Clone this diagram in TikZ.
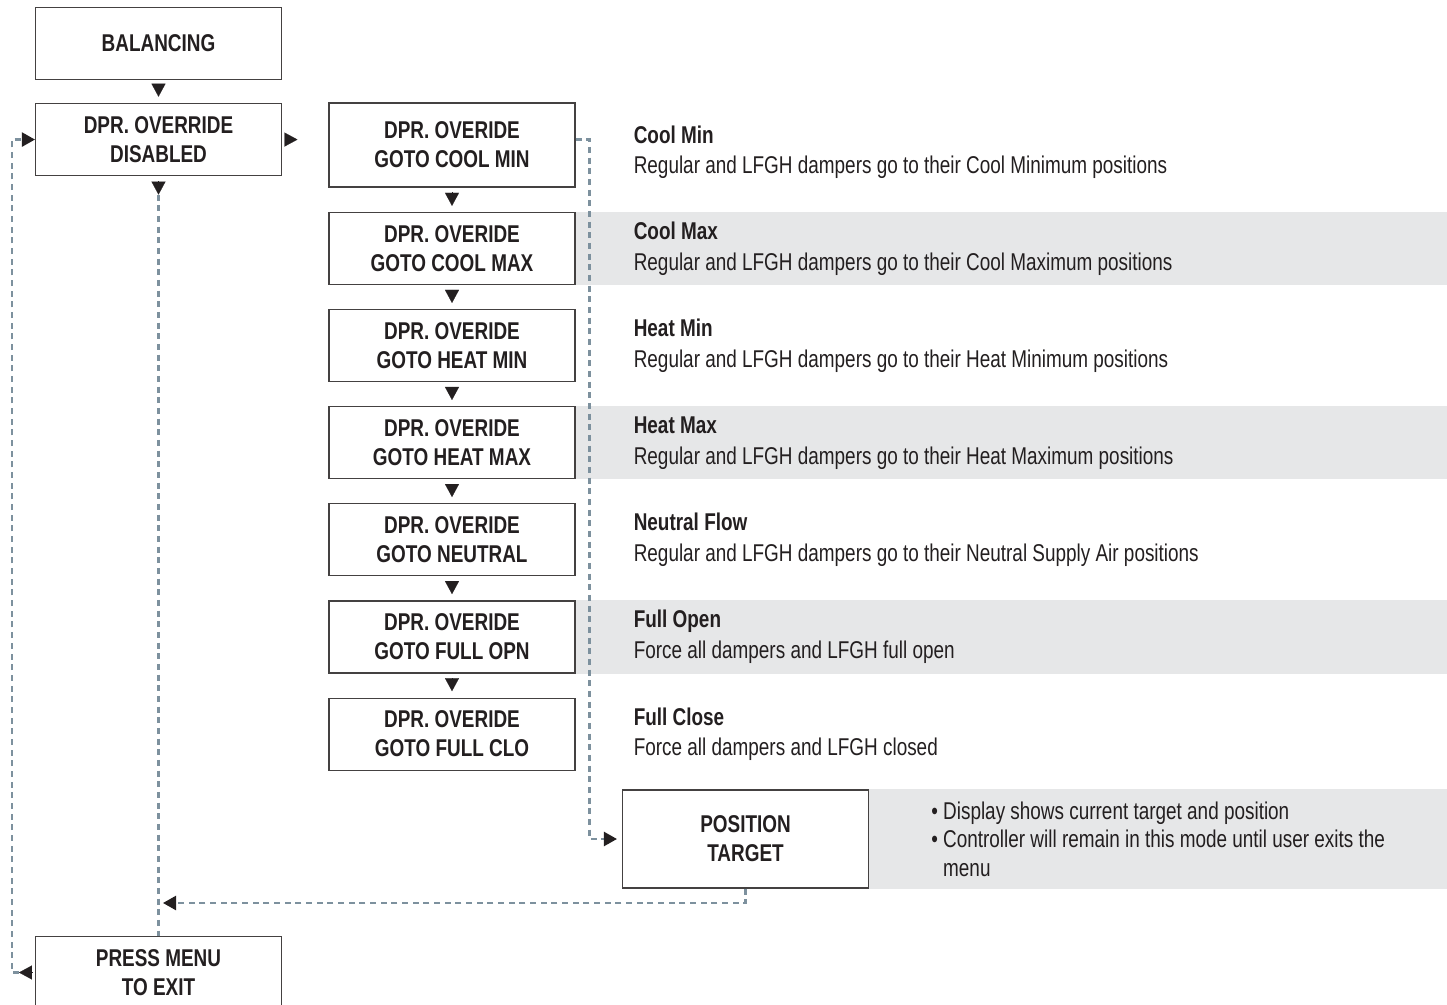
\documentclass[tikz,border=0pt]{standalone}
\usepackage{fontspec}
\setmainfont{Liberation Sans}[FakeStretch=0.78]
\usetikzlibrary{arrows.meta,positioning}

\definecolor{ink}{RGB}{35,31,32}
\definecolor{band}{RGB}{230,231,232}
\definecolor{dashgrey}{RGB}{125,145,158}

\tikzset{
  menubox/.style={draw=ink!85, line width=0.8pt, fill=white, text=ink, inner sep=0pt,
    minimum width=184.5pt, minimum height=54pt, align=center,
    font=\bfseries\fontsize{18.2pt}{21.75pt}\selectfont},
  desc/.style={anchor=west, inner sep=0pt, align=left, text=ink,
    font=\fontsize{18.2pt}{23pt}\selectfont},
  tip/.tip={Triangle[length=9.75pt,width=10.5pt,color=ink]},
  steptip/.style={-tip, draw=ink, line width=0.1pt, shorten <=3.5pt, shorten >=4.75pt},
  dashflow/.style={draw=dashgrey, line width=1.7pt, dash pattern=on 4.5pt off 3.5pt}
}

\begin{document}
\begin{tikzpicture}[x=0.75pt,y=0.75pt,yscale=-1]
  \useasboundingbox (0,0) rectangle (1447,1005);
  \coordinate (edge) at (1447,0);

  %Left column
  \node[menubox] (bal) at (158.5,43.5) {BALANCING};
  \node[menubox, below=17.25pt of bal] (dis) {DPR. OVERRIDE\\DISABLED};
  \node[menubox] (exit) at (158.5,972.5) {PRESS MENU\\TO EXIT};

  %Override column
  \node[menubox, minimum height=63pt] (cmin) at (452,145) {DPR. OVERIDE\\GOTO COOL MIN};
  \node[menubox, below=18.5pt of cmin] (cmax) {DPR. OVERIDE\\GOTO COOL MAX};
  \node[menubox, below=18pt of cmax] (hmin) {DPR. OVERIDE\\GOTO HEAT MIN};
  \node[menubox, below=18pt of hmin] (hmax) {DPR. OVERIDE\\GOTO HEAT MAX};
  \node[menubox, below=18pt of hmax] (neu) {DPR. OVERIDE\\GOTO NEUTRAL};
  \node[menubox, below=18pt of neu] (fopn) {DPR. OVERIDE\\GOTO FULL OPN};
  \node[menubox, below=18pt of fopn] (fclo) {DPR. OVERIDE\\GOTO FULL CLO};
  \node[menubox, minimum height=73.5pt] (pos) at (745.5,839) {POSITION\\TARGET};

  %Shaded bands
  \foreach \b in {cmax,hmax,fopn,pos}
    \fill[band] (\b.north east) rectangle (\b.south east -| edge);

  %Descriptions
  \node[desc, right=43.5pt of cmin, yshift=-5.5pt] (dcmin) {\textbf{Cool Min}\\Regular and LFGH dampers go to their Cool Minimum positions};
  \node[desc, right=43.5pt of cmax] (dcmax) {\textbf{Cool Max}\\Regular and LFGH dampers go to their Cool Maximum positions};
  \node[desc, right=43.5pt of hmin] (dhmin) {\textbf{Heat Min}\\Regular and LFGH dampers go to their Heat Minimum positions};
  \node[desc, right=43.5pt of hmax] (dhmax) {\textbf{Heat Max}\\Regular and LFGH dampers go to their Heat Maximum positions};
  \node[desc, right=43.5pt of neu] (dneu) {\textbf{Neutral Flow}\\Regular and LFGH dampers go to their Neutral Supply Air positions};
  \node[desc, right=43.5pt of fopn] (dfopn) {\textbf{Full Open}\\Force all dampers and LFGH full open};
  \node[desc, right=43.5pt of fclo] (dfclo) {\textbf{Full Close}\\Force all dampers and LFGH closed};
  \node[desc, right=46.5pt of pos, font=\fontsize{18.2pt}{21.5pt}\selectfont] (note)
    {\textbullet\ Display shows current target and position\\
     \textbullet\ Controller will remain in this mode until user exits the\\
     \phantom{\textbullet\ }menu};

  %Step arrows
  \draw[steptip] (bal) -- (dis);
  \draw[steptip, shorten >=23.25pt, shorten <=3pt] (dis.east) -- (dis.east -| cmin.west);
  \foreach \a/\b in {cmin/cmax,cmax/hmin,hmin/hmax,hmax/neu,neu/fopn,fopn/fclo}
    \draw[steptip] (\a) -- (\b);

  %Dashed flow
  \draw[steptip, shorten >=0pt, shorten <=4pt] (dis.south) -- ++(0,18.5) coordinate (dtip);
  \draw[dashflow] (dtip) -- (exit.north);
  \draw[dashflow, -tip, shorten >=3.75pt] (cmin.east |- dis.east) -- ++(14,0) |- (pos.west);
  \coordinate (join) at (163,903);
  \draw[dashflow, -tip] (pos.south) |- (join);
  \draw[steptip, shorten >=0pt, shorten <=2.25pt] (exit.west) -- ++(-16,0) coordinate (lx);
  \draw[dashflow, -tip] (lx) -- ++(-7,0) |- (dis.west);
\end{tikzpicture}
\end{document}
